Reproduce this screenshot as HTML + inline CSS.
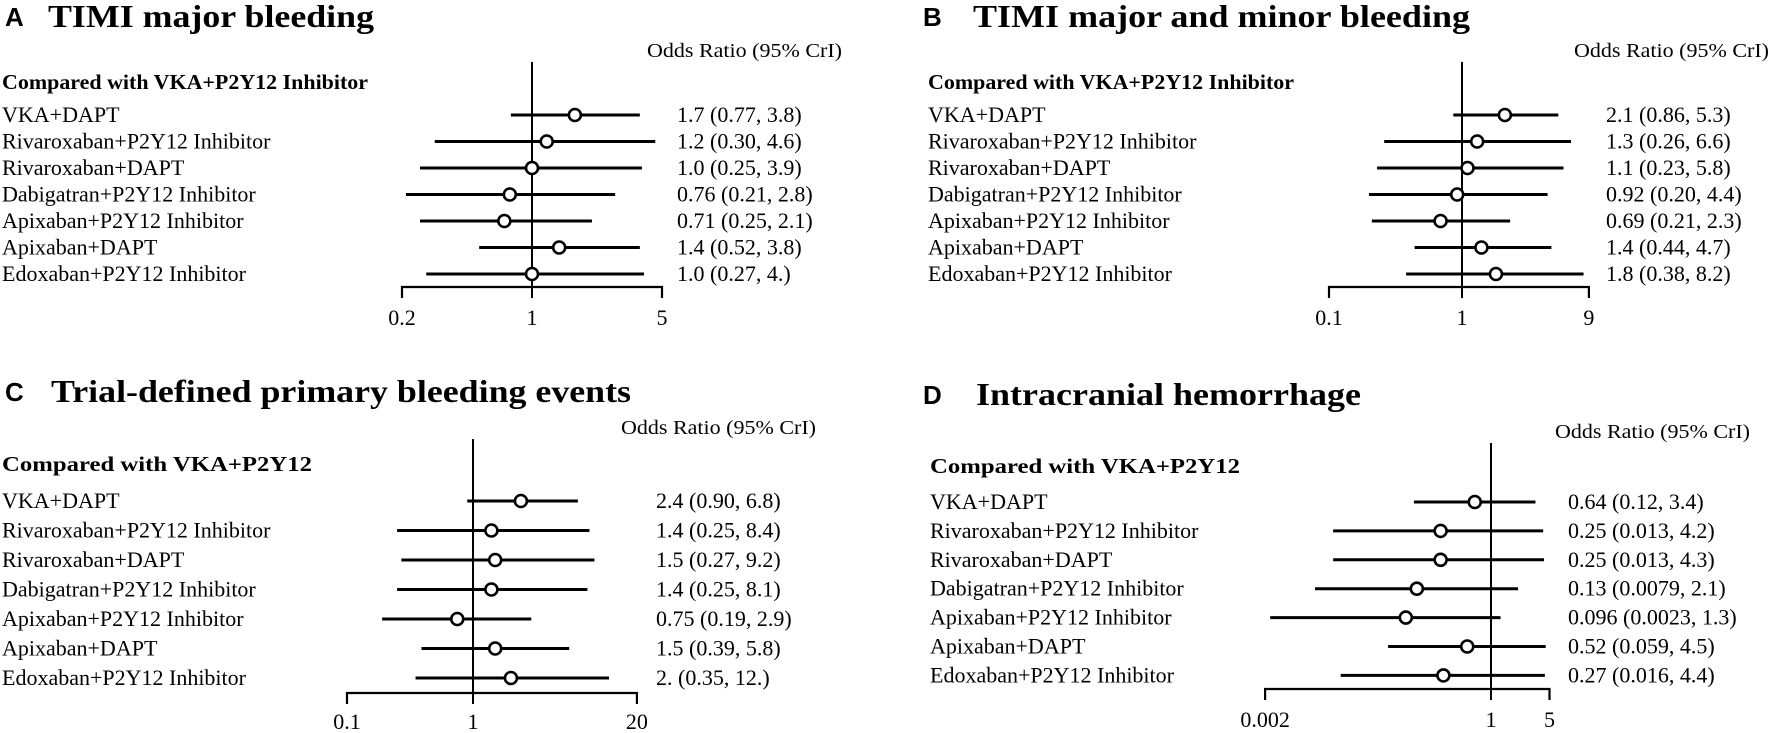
<!DOCTYPE html>
<html><head><meta charset="utf-8"><style>
html,body{margin:0;padding:0;background:#fff;}
svg{display:block;}
text{font-family:"Liberation Serif",serif;fill:#000;}
.lt{font-family:"Liberation Sans",sans-serif;font-weight:bold;font-size:26px;}
.ti{font-weight:bold;font-size:32px;}
.hd{font-weight:bold;font-size:21px;}
.od{font-size:20px;}
.rw{font-size:22px;}
.tk{font-size:22px;}
</style></head><body>
<svg id="chart" width="1772" height="733" viewBox="0 0 1772 733" xmlns="http://www.w3.org/2000/svg"></svg>
<script>
const rowLabels = ["VKA+DAPT","Rivaroxaban+P2Y12 Inhibitor","Rivaroxaban+DAPT","Dabigatran+P2Y12 Inhibitor","Apixaban+P2Y12 Inhibitor","Apixaban+DAPT","Edoxaban+P2Y12 Inhibitor"];
const orA = [1.7,1.2,1.0,0.76,0.71,1.4,1.0];
const loA = [0.77,0.30,0.25,0.21,0.25,0.52,0.27];
const hiA = [3.8,4.6,3.9,2.8,2.1,3.8,4.0];
const txtA = ["1.7 (0.77, 3.8)","1.2 (0.30, 4.6)","1.0 (0.25, 3.9)","0.76 (0.21, 2.8)","0.71 (0.25, 2.1)","1.4 (0.52, 3.8)","1.0 (0.27,  4.)"];
const ticksA = [0.2,1,5];
const tickLabelsA = ["0.2","1","5"];
const orB = [2.1,1.3,1.1,0.92,0.69,1.4,1.8];
const loB = [0.86,0.26,0.23,0.20,0.21,0.44,0.38];
const hiB = [5.3,6.6,5.8,4.4,2.3,4.7,8.2];
const txtB = ["2.1 (0.86, 5.3)","1.3 (0.26, 6.6)","1.1 (0.23, 5.8)","0.92 (0.20, 4.4)","0.69 (0.21, 2.3)","1.4 (0.44, 4.7)","1.8 (0.38, 8.2)"];
const ticksB = [0.1,1,9];
const tickLabelsB = ["0.1","1","9"];
const orC = [2.4,1.4,1.5,1.4,0.75,1.5,2.0];
const loC = [0.90,0.25,0.27,0.25,0.19,0.39,0.35];
const hiC = [6.8,8.4,9.2,8.1,2.9,5.8,12];
const txtC = ["2.4 (0.90, 6.8)","1.4 (0.25, 8.4)","1.5 (0.27, 9.2)","1.4 (0.25, 8.1)","0.75 (0.19, 2.9)","1.5 (0.39, 5.8)"," 2. (0.35,   12.)"];
const ticksC = [0.1,1,20];
const tickLabelsC = ["0.1","1","20"];
const orD = [0.64,0.25,0.25,0.13,0.096,0.52,0.27];
const loD = [0.12,0.013,0.013,0.0079,0.0023,0.059,0.016];
const hiD = [3.4,4.2,4.3,2.1,1.3,4.5,4.4];
const txtD = ["0.64 (0.12, 3.4)","0.25 (0.013, 4.2)","0.25 (0.013, 4.3)","0.13 (0.0079, 2.1)","0.096 (0.0023, 1.3)","0.52 (0.059, 4.5)","0.27 (0.016, 4.4)"];
const ticksD = [0.002,1,5];
const tickLabelsD = ["0.002","1","5"];

const NS="http://www.w3.org/2000/svg";
const svg=document.getElementById('chart');
function mk(tag,attrs,parent){const e=document.createElementNS(NS,tag);for(const k in attrs)e.setAttribute(k,attrs[k]);(parent||svg).appendChild(e);return e;}

const panels=[
 {key:'a',letter:'A',title:'TIMI major bleeding',tw:326,lx:5,tx:48,tby:27,odx:647,ody:57,cmp:'Compared with VKA+P2Y12 Inhibitor',cw:366,cmx:2,cmy:89,labx:2,rowY0:115,rowDy:26.5,vtop:62,axY:287,valx:677,x1:532,dec:186,tkY:325,or:orA,lo:loA,hi:hiA,txt:txtA,ticks:ticksA,tl:tickLabelsA},
 {key:'b',letter:'B',title:'TIMI major and minor bleeding',tw:497,lx:923,tx:973,tby:27,odx:1574,ody:57,cmp:'Compared with VKA+P2Y12 Inhibitor',cw:366,cmx:928,cmy:89,labx:928,rowY0:115,rowDy:26.5,vtop:62,axY:287,valx:1606,x1:1462,dec:133,tkY:325,or:orB,lo:loB,hi:hiB,txt:txtB,ticks:ticksB,tl:tickLabelsB},
 {key:'c',letter:'C',title:'Trial-defined primary bleeding events',tw:580,lx:5,tx:51,tby:402,odx:621,ody:434,cmp:'Compared with VKA+P2Y12',cw:310,cmx:2,cmy:471,labx:2,rowY0:501,rowDy:29.5,vtop:439,axY:693,valx:656,x1:473,dec:126,tkY:729,or:orC,lo:loC,hi:hiC,txt:txtC,ticks:ticksC,tl:tickLabelsC},
 {key:'d',letter:'D',title:'Intracranial hemorrhage',tw:385,lx:923,tx:976,tby:405,odx:1555,ody:438,cmp:'Compared with VKA+P2Y12',cw:310,cmx:930,cmy:473,labx:930,rowY0:502,rowDy:28.9,vtop:443,axY:689,valx:1568,x1:1491,dec:83.7,tkY:727,or:orD,lo:loD,hi:hiD,txt:txtD,ticks:ticksD,tl:tickLabelsD}
];

panels.forEach(p=>{
  const g=mk('g',{});
  
  
  const xs=v=>p.x1+Math.log10(v)*p.dec;
  const L=mk('text',{x:p.lx,y:p.tby-1,class:'lt'},g); L.textContent=p.letter;
  
  
  const T=mk('text',{x:p.tx,y:p.tby,class:'ti',textLength:p.tw,lengthAdjust:'spacingAndGlyphs'},g); T.textContent=p.title;
  
  
  const O=mk('text',{x:p.odx,y:p.ody,class:'od',textLength:195,lengthAdjust:'spacingAndGlyphs'},g); O.textContent='Odds Ratio (95% CrI)';
  
  
  const C=mk('text',{x:p.cmx,y:p.cmy,class:'hd',textLength:p.cw,lengthAdjust:'spacingAndGlyphs'},g); C.textContent=p.cmp;
  
  
  const tMin=p.ticks[0], tMax=p.ticks[p.ticks.length-1];
  const ax=mk('path',{d:`M${xs(tMin)},${p.axY+11}V${p.axY}H${xs(tMax)}V${p.axY+11}`,fill:'none',stroke:'#000','stroke-width':2.2},g);
  
  
  const ref=mk('line',{x1:xs(1),x2:xs(1),y1:p.vtop,y2:p.axY+11,stroke:'#000','stroke-width':2},g);
  
  
  p.ticks.forEach((t,i)=>{
    const tl=mk('text',{x:xs(t),y:p.tkY,class:'tk','text-anchor':'middle'},g); tl.textContent=p.tl[i];
    
    
  });
  rowLabels.forEach((lab,i)=>{
    const y=p.rowY0+i*p.rowDy;
    const t=mk('text',{x:p.labx,y:y+7,class:'rw'},g); t.textContent=lab;
    
    
    const ci=mk('line',{x1:xs(p.lo[i]),x2:xs(p.hi[i]),y1:y,y2:y,stroke:'#000','stroke-width':3},g);
    
    
    const c=mk('circle',{cx:xs(p.or[i]),cy:y,r:6,fill:'#fff',stroke:'#000','stroke-width':2.6},g);
    
    
    const v=mk('text',{x:p.valx,y:y+7,class:'rw','xml:space':'preserve'},g); v.textContent=p.txt[i];
    
    
  });
});
</script>
</body></html>
